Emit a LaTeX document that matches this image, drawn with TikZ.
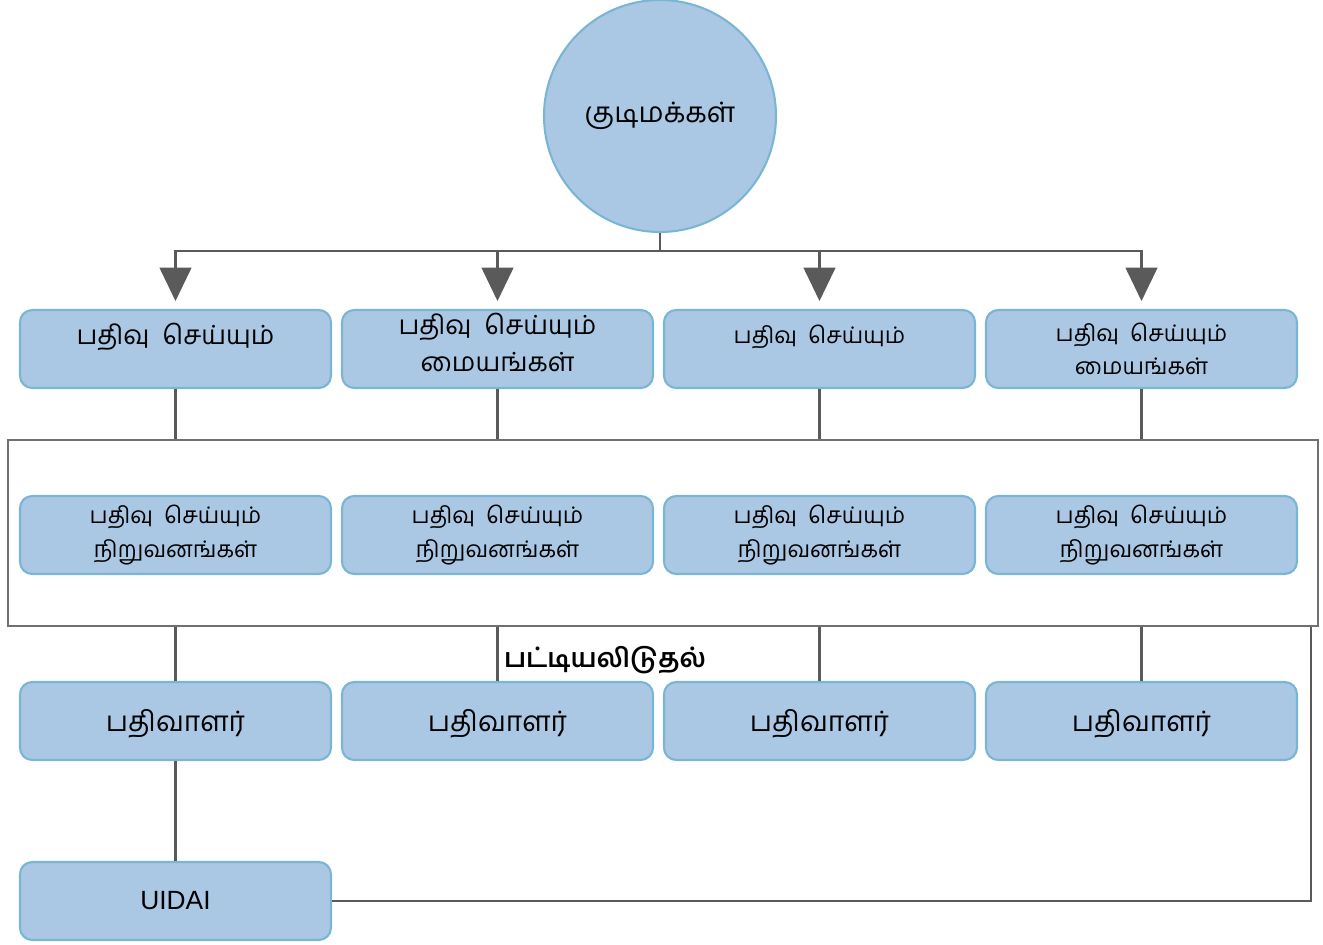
\documentclass[tikz,border=0pt]{standalone}
\usepackage{fontspec}
\setmainfont{Liberation Sans}
\newfontfamily\tamil[Script=Tamil]{Hind Madurai}
\usetikzlibrary{arrows.meta,positioning}
\definecolor{boxfill}{RGB}{170,200,228}
\definecolor{boxline}{RGB}{122,182,212}
\definecolor{linegrey}{RGB}{90,90,90}
\definecolor{framegrey}{RGB}{112,112,112}
\tikzset{
	box/.style={draw=boxline,line width=1.2pt,fill=boxfill,rounded corners=7pt,
		minimum width=6.22cm,minimum height=1.56cm,align=center,smalltxt},
	bigtxt/.style={font=\tamil\fontsize{15}{21}\selectfont},
	smalltxt/.style={font=\tamil\fontsize{13}{19}\selectfont},
	link/.style={draw=linegrey,line width=1.4pt},
	down/.style={link,-{Triangle[length=19pt,width=18pt]},shorten >=4.5pt}
}
\begin{document}
\begin{tikzpicture}
	\useasboundingbox (0,0) rectangle (26.46,18.9);
	\node[circle,draw=boxline,line width=1.2pt,fill=boxfill,minimum size=4.64cm,
		font=\tamil\fontsize{16}{20}\selectfont] (citizens) at (13.2,16.58) {குடிமக்கள்};
	\coordinate (bus) at ([yshift=-0.36cm]citizens.south);
	\draw[link] (citizens.south) -- (bus);

	\node[draw=framegrey,line width=1pt,minimum width=26.2cm,minimum height=3.72cm,
		inner sep=0pt] (frame) at (13.26,8.24) {};

	\node[box,bigtxt,text depth=0.6cm] (c1) at (3.51,11.92) {பதிவு\ \ செய்யும்};
	\node[box,bigtxt,text depth=0.25cm,inner ysep=0pt] (c2) at (9.95,11.92) {பதிவு\ \ செய்யும்\\மையங்கள்};
	\node[box,text depth=0.6cm] (c3) at (16.39,11.92) {பதிவு\ \ செய்யும்};
	\node[box] (c4) at (22.83,11.92) {பதிவு\ \ செய்யும்\\மையங்கள்};

	\foreach \x[count=\i] in {3.51,9.95,16.39,22.83}{
		\node[box] (a\i) at (\x,8.2) {பதிவு\ \ செய்யும்\\நிறுவனங்கள்};
		\node[box,font=\tamil\fontsize{16}{20}\selectfont,text height=0.55cm] (r\i) at (\x,4.48) {பதிவாளர்};
		\draw[down] (bus) -| (c\i.north);
		\draw[link] (c\i.south) -- (c\i.south |- frame.north);
		\draw[link] (c\i.south |- frame.south) -- (r\i.north);
	}

	\node[font=\tamil\bfseries\fontsize{15}{18}\selectfont] (listing) at (12.1,5.7) {பட்டியலிடுதல்};

	\node[box,font=\fontsize{15}{18}\selectfont] (uidai) at (3.51,0.88) {UIDAI};
	\draw[link] (r1.south) -- (uidai.north);
	\draw[link] (uidai.east) -| ([xshift=-0.16cm]frame.south east);
\end{tikzpicture}
\end{document}
